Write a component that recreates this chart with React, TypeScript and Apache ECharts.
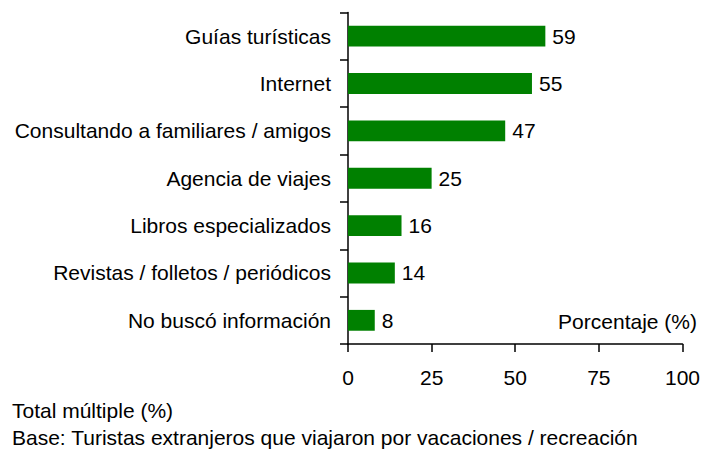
import React, { useEffect, useRef } from "react";
import * as echarts from "echarts";

const categories = [
  "Guías turísticas",
  "Internet",
  "Consultando a familiares / amigos",
  "Agencia de viajes",
  "Libros especializados",
  "Revistas / folletos / periódicos",
  "No buscó información",
];
const values = [59, 55, 47, 25, 16, 14, 8];
const xTicks = [0, 25, 50, 75, 100];
const footnotes = [
  "Total múltiple (%)",
  "Base: Turistas extranjeros que viajaron por vacaciones / recreación",
];
const axisTitle = "Porcentaje (%)";

export default function App() {
  const ref = useRef<HTMLDivElement>(null);
  useEffect(() => {
    if (!ref.current) return;
    const chart = echarts.init(ref.current, undefined, { renderer: "svg" });
    const font = "Liberation Sans, Arial, sans-serif";
    const fs = 21;
    chart.setOption({
      animation: false,
      textStyle: { fontFamily: font },
      grid: { left: 348, right: 19, top: 12.5, bottom: 108, containLabel: false },
      xAxis: {
        type: "value",
        min: xTicks[0],
        max: xTicks[xTicks.length - 1],
        interval: 25,
        splitLine: { show: false },
        axisLine: { show: true, lineStyle: { color: "#000", width: 1.5 } },
        axisTick: { show: true, length: 8, lineStyle: { color: "#000", width: 1.5 } },
        axisLabel: { color: "#000", fontSize: fs, margin: 23, fontFamily: font },
      },
      yAxis: {
        type: "category",
        data: categories,
        inverse: true,
        axisLine: { show: true, lineStyle: { color: "#000", width: 1.5 } },
        axisTick: { show: true, length: 8, lineStyle: { color: "#000", width: 1.5 } },
        axisLabel: { color: "#000", fontSize: fs, margin: 17, fontFamily: font },
      },
      series: [
        {
          type: "bar",
          data: values,
          barCategoryGap: "56%",
          itemStyle: { color: "#008000" },
          label: {
            show: true,
            position: "right",
            distance: 7,
            color: "#000",
            fontSize: fs,
            fontFamily: font,
          },
        },
      ],
      graphic: [
        {
          type: "text",
          right: 6,
          top: 311,
          style: { text: axisTitle, fill: "#000", fontSize: fs, fontFamily: font },
        },
        {
          type: "text",
          left: 12,
          top: 400,
          style: { text: footnotes[0], fill: "#000", fontSize: fs, fontFamily: font },
        },
        {
          type: "text",
          left: 12,
          top: 427,
          style: { text: footnotes[1], fill: "#000", fontSize: fs, fontFamily: font },
        },
      ],
    });
    return () => chart.dispose();
  }, []);
  return <div ref={ref} style={{ width: 703, height: 452, position: "absolute", left: 0, top: 0 }} />;
}
